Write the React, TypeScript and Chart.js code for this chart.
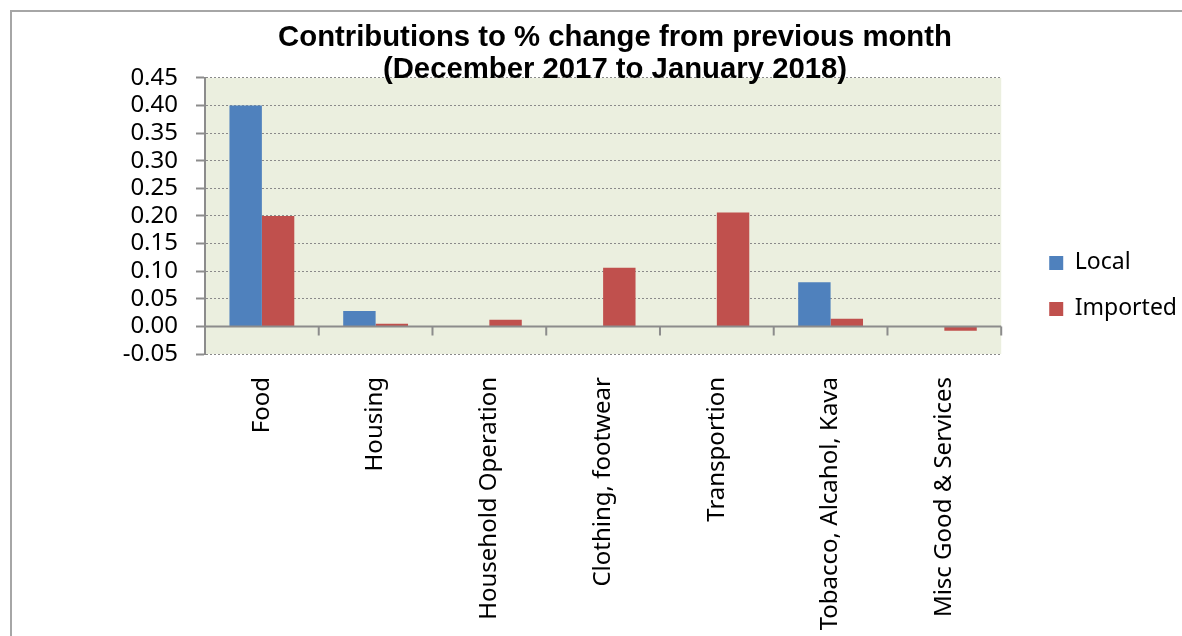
import React, { useEffect, useRef } from "react";
import { Chart, registerables } from "chart.js";

Chart.register(...registerables);

const categories = [
  "Food",
  "Housing",
  "Household Operation",
  "Clothing, footwear",
  "Transportion",
  "Tobacco, Alcahol, Kava",
  "Misc Good & Services",
];
const localValues: (number | null)[] = [0.4, 0.028, null, null, null, 0.08, null];
const importedValues: (number | null)[] = [0.2, 0.005, 0.012, 0.106, 0.206, 0.014, -0.008];
const seriesNames = ["Local", "Imported"];
const titleLines = [
  "Contributions to % change from previous month",
  "(December 2017 to January 2018)",
];
const yMin = -0.05;
const yMax = 0.45;
const yStep = 0.05;

const BLUE = "#4F81BD";
const RED = "#C0504D";
const PLOT_BG = "#EBEFDF";
const AXIS = "#8c8c8c";
const FONT = "'Noto Sans', sans-serif";

const decorPlugin = {
  id: "decor",
  beforeDraw(chart: any) {
    const { ctx, chartArea: a } = chart;
    ctx.save();
    ctx.fillStyle = PLOT_BG;
    ctx.fillRect(a.left, a.top, a.right - a.left, a.bottom - a.top);
    ctx.restore();
  },
  afterDatasetsDraw(chart: any) {
    const { ctx, chartArea: a } = chart;
    const xs = chart.scales.x;
    const ys = chart.scales.y;
    const y0 = ys.getPixelForValue(0);
    const n = categories.length;
    ctx.save();
    ctx.strokeStyle = AXIS;
    ctx.lineWidth = 2;
    ctx.beginPath();
    ctx.moveTo(a.left, y0);
    ctx.lineTo(a.right, y0);
    for (let i = 0; i <= n; i++) {
      const xb = i === 0 ? a.left : i === n ? a.right : (xs.getPixelForValue(i - 1) + xs.getPixelForValue(i)) / 2;
      ctx.moveTo(xb, y0);
      ctx.lineTo(xb, y0 + 9);
    }
    ctx.stroke();
    ctx.restore();
  },
};

export default function App() {
  const ref = useRef<HTMLCanvasElement | null>(null);
  useEffect(() => {
    if (!ref.current) return;
    const chart = new Chart(ref.current, {
      type: "bar",
      data: {
        labels: categories,
        datasets: [
          { label: seriesNames[0], data: localValues, backgroundColor: BLUE, borderWidth: 0 },
          { label: seriesNames[1], data: importedValues, backgroundColor: RED, borderWidth: 0 },
        ],
      },
      options: {
        animation: false,
        responsive: true,
        maintainAspectRatio: false,
        layout: { padding: 0 },
        datasets: { bar: { categoryPercentage: 0.57, barPercentage: 1 } },
        plugins: {
          title: {
            display: true,
            text: titleLines,
            color: "#000",
            font: { family: "'Liberation Sans', Arial, sans-serif", size: 29.3, weight: "bold", lineHeight: 1.09 },
            padding: { top: 14, bottom: -8 },
          },
          legend: {
            position: "right",
            align: "start",
            title: { display: true, text: "", padding: { top: 206, bottom: 0 } },
            labels: {
              boxWidth: 14,
              boxHeight: 14,
              padding: 23,
              color: "#000",
              font: { family: FONT, size: 23 },
            },
          },
          tooltip: { enabled: false },
        },
        scales: {
          x: {
            grid: { display: false },
            border: { display: false },
            ticks: {
              autoSkip: false,
              minRotation: 90,
              maxRotation: 90,
              padding: 15,
              color: "#000",
              font: { family: FONT, size: 24 },
            },
            afterFit: (s: any) => {
              s.height = 282;
            },
          },
          y: {
            min: yMin,
            max: yMax,
            ticks: {
              stepSize: yStep,
              autoSkip: false,
              padding: 18,
              color: "#000",
              font: { family: FONT, size: 24 },
              callback: (v: any) => Number(v).toFixed(2),
            },
            grid: {
              color: (c: any) => (c.tick && Math.abs(c.tick.value) < 1e-9 ? "rgba(0,0,0,0)" : "#8a8a8a"),
              lineWidth: 1,
              drawTicks: true,
              tickLength: 9,
              tickColor: AXIS,
              tickWidth: 2,
              tickBorderDash: [],
            },
            border: { display: true, color: AXIS, width: 2, dash: [2, 2] },
            afterFit: (s: any) => {
              s.width = 162;
            },
          },
          spacer: {
            type: "linear",
            position: "right",
            display: true,
            grid: { display: false, drawTicks: false },
            border: { display: false },
            ticks: { display: false },
            afterFit: (s: any) => {
              s.width = 25;
            },
          },
        },
      },
      plugins: [decorPlugin],
    } as any);
    return () => chart.destroy();
  }, []);

  return (
    <div style={{ position: "fixed", left: 0, top: 0, width: 1182, height: 636, overflow: "hidden", background: "#fff" }}>
      <div
        style={{
          position: "absolute",
          left: 10,
          top: 10,
          width: 1300,
          height: 800,
          borderLeft: "2px solid #a6a6a6",
          borderTop: "2px solid #a6a6a6",
        }}
      />
      <div style={{ position: "absolute", left: 43, top: 8, width: 1144, height: 628 }}>
        <canvas ref={ref} />
      </div>
    </div>
  );
}
